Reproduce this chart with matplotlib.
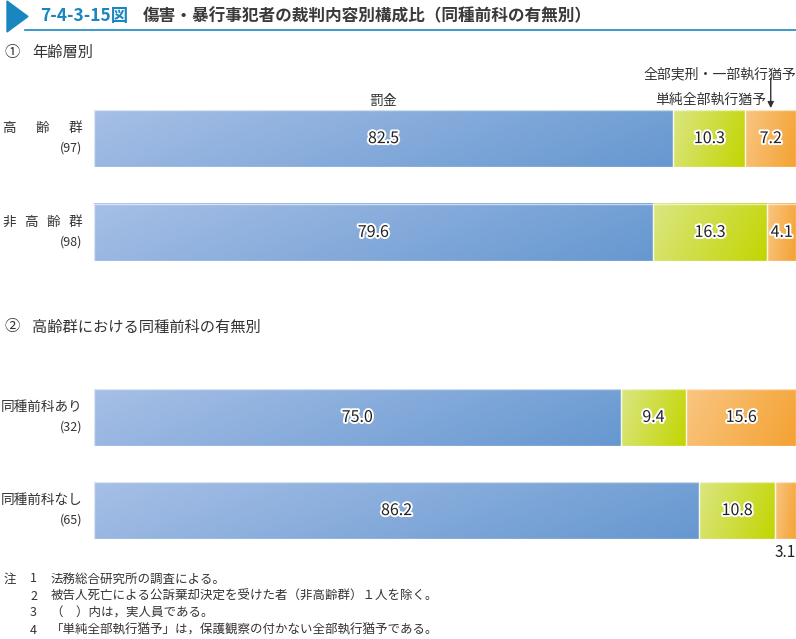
import numpy as np
import matplotlib.pyplot as plt
from matplotlib.colors import LinearSegmentedColormap
from matplotlib.patches import Rectangle, Polygon
import matplotlib.patheffects as pe

plt.rcParams['font.family'] = ['Noto Sans CJK JP', 'DejaVu Sans']

#data
series_names = ["罰金", "単純全部執行猶予", "全部実刑・一部執行猶予"]
age_labels = ["高齢群", "非高齢群"]
age_counts = ["(97)", "(98)"]
age_values = [[82.5, 10.3, 7.2],
              [79.6, 16.3, 4.1]]
prior_labels = ["同種前科あり", "同種前科なし"]
prior_counts = ["(32)", "(65)"]
prior_values = [[75.0, 9.4, 15.6],
                [86.2, 10.8, 3.1]]
notes = ["法務総合研究所の調査による。",
         "被告人死亡による公訴棄却決定を受けた者（非高齢群）１人を除く。",
         "（　）内は，実人員である。",
         "「単純全部執行猶予」は，保護観察の付かない全部執行猶予である。"]

#gradient colours (light -> dark) per series
grad_colors = [("#a6bfe6", "#6698d0"),
               ("#dbe682", "#c2d500"),
               ("#f9c682", "#f4a232")]
cmaps = [LinearSegmentedColormap.from_list("g%d" % i, c) for i, c in enumerate(grad_colors)]

W, H = 796, 639
fig = plt.figure(figsize=(W / 100, H / 100), dpi=100)

#pixel -> figure fraction
def px(x, y):
    return x / W, 1 - y / H

BAR_H = 0.61
LABEL_L, LABEL_R = 2, 82  #label block in pixels
outline = [pe.withStroke(linewidth=2.8, foreground="white")]

def make_axes(top, bottom):
    ax = fig.add_axes([94 / W, 1 - bottom / H, (W - 94) / W, (bottom - top) / H])
    ax.set_xlim(0, 100)
    ax.set_ylim(1 + BAR_H / 2, -BAR_H / 2)
    ax.axis("off")
    return ax

#justified label: spread characters over the label block
def justified(ax, y, s, fs):
    tr = fig.transFigure + ax.transData.inverted()
    ch = 13.6
    n = len(s)
    for i, c in enumerate(s):
        cx = LABEL_L + ch / 2 + i * (LABEL_R - LABEL_L - ch) / (n - 1)
        x_ax = (cx - 94) / (W - 94)
        ax.text(x_ax, y, c, transform=ax.get_yaxis_transform(), ha="center",
                va="center", fontsize=fs, color="#333333")

def draw_bars(ax, values, labels, counts, justify):
    m, n = 20, 200
    jj, ii = np.meshgrid(np.linspace(0, 1, n), np.linspace(0, 1, m))
    grad = 0.8 * jj + 0.2 * ii
    for row, vals in enumerate(values):
        left = 0
        for k, v in enumerate(vals):
            right = min(left + v, 100)
            ax.imshow(grad, cmap=cmaps[k], aspect="auto", origin="upper",
                      extent=(left, right, row + BAR_H / 2, row - BAR_H / 2),
                      interpolation="bilinear", zorder=1)
            ax.add_patch(Rectangle((left, row - BAR_H / 2), right - left, BAR_H,
                                   fill=False, edgecolor="white", lw=1.0, alpha=0.6, zorder=2))
            if v >= 4:
                ax.text(left + v / 2, row, "%.1f" % v, ha="center", va="center",
                        fontsize=11.5, color="#222222", path_effects=outline, zorder=3)
            left += v
        #category labels
        if justify:
            justified(ax, row - 0.11, labels[row], 9.8)
        else:
            ax.text(-0.017, row - 0.11, labels[row], transform=ax.get_yaxis_transform(),
                    ha="right", va="center", fontsize=9.8, color="#333333")
        ax.text(-0.017, row + 0.10, counts[row], transform=ax.get_yaxis_transform(),
                ha="right", va="center", fontsize=9, color="#333333")
    ax.set_xlim(0, 100)
    ax.set_ylim(1 + BAR_H / 2, -BAR_H / 2)

#title
fig.patches.append(Polygon([px(7, 1), px(7, 32), px(28, 16.5)], closed=True,
                           transform=fig.transFigure, color="#1a86c0"))
fig.lines.append(plt.Line2D([25 / W, 1], [1 - 30 / H] * 2, transform=fig.transFigure,
                            color="#1a86c0", lw=1.2))
fig.text(*px(40, 16), "7-4-3-15図", ha="left", va="center", fontsize=12.5,
         fontweight="bold", color="#1a86c0")
fig.text(*px(143, 16), "傷害・暴行事犯者の裁判内容別構成比（同種前科の有無別）",
         ha="left", va="center", fontsize=12, fontweight="bold", color="#3a3a3a")

fig.text(*px(4, 52), "①", ha="left", va="center", fontsize=11, color="#333333")
fig.text(*px(32, 52), "年齢層別", ha="left", va="center", fontsize=11, color="#333333")
fig.text(*px(4, 327), "②", ha="left", va="center", fontsize=11, color="#333333")
fig.text(*px(32, 327), "高齢群における同種前科の有無別", ha="left", va="center",
         fontsize=11, color="#333333")

ax1 = make_axes(110, 261)
ax2 = make_axes(389, 539)
fig.canvas.draw()
draw_bars(ax1, age_values, age_labels, age_counts, True)
draw_bars(ax2, prior_values, prior_labels, prior_counts, False)

#series annotations in panel 1
ax1.text(age_values[0][0] / 2, -BAR_H / 2 - 0.1, series_names[0], ha="center",
         va="center", fontsize=10, color="#333333")
fig.text(*px(766, 100), series_names[1], ha="right", va="center", fontsize=10, color="#333333")
fig.text(*px(796, 74), series_names[2], ha="right", va="center", fontsize=10, color="#333333")
x_or = sum(age_values[0][:2]) + age_values[0][2] / 2
ax1.annotate("", xy=(x_or, -BAR_H / 2 - 0.02), xytext=(x_or, -BAR_H / 2 - 0.34),
             arrowprops=dict(arrowstyle="-|>", color="#333333", lw=1.0,
                             mutation_scale=9, shrinkA=0, shrinkB=0),
             annotation_clip=False)

#small segment label under panel 2
v = prior_values[1][2]
ax2.text(100, 1 + BAR_H / 2 + 0.14, "%.1f" % v, ha="right", va="center",
         fontsize=11, color="#222222")

#notes
fig.text(*px(4, 579), "注", ha="left", va="center", fontsize=9, color="#333333")
for i, t in enumerate(notes):
    y = 579 + i * 17
    fig.text(*px(30, y), str(i + 1), ha="left", va="center", fontsize=9, color="#333333")
    fig.text(*px(51, y), t, ha="left", va="center", fontsize=9, color="#333333")

fig.savefig("out.png", dpi=100)
